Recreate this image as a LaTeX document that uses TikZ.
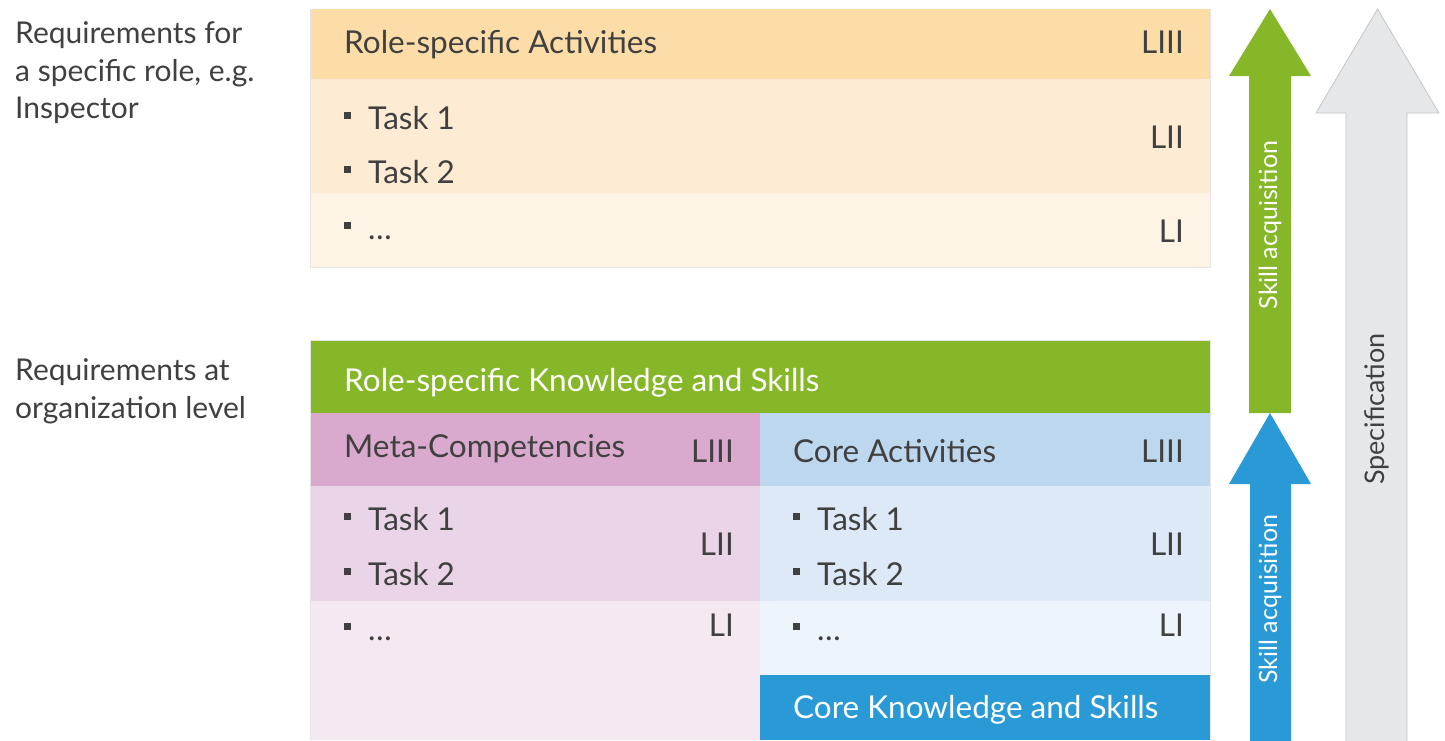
\documentclass[tikz,border=0pt]{standalone}
\usepackage{fontspec}
\setmainfont{Lato}
\definecolor{txt}{HTML}{404040}
\definecolor{orA}{HTML}{FCDDA8}
\definecolor{orB}{HTML}{FDEBD3}
\definecolor{orC}{HTML}{FEF4E6}
\definecolor{grn}{HTML}{86B728}
\definecolor{mtA}{HTML}{DAAACE}
\definecolor{mtB}{HTML}{EAD5E8}
\definecolor{mtC}{HTML}{F4E8F3}
\definecolor{crA}{HTML}{BDD7EF}
\definecolor{crB}{HTML}{DDE9F6}
\definecolor{crC}{HTML}{EEF4FB}
\definecolor{blu}{HTML}{2A9AD6}
\definecolor{gryA}{HTML}{E6E7E8}
\definecolor{gryB}{HTML}{C4C5C7}
\newcommand\sqbul{\makebox[24pt][l]{\rule[10pt]{7pt}{7pt}}}
\tikzset{
  lbl/.style={anchor=base west, inner sep=0pt, text=txt, font=\fontsize{31.5}{38}\selectfont},
  lvl/.style={anchor=base east, inner sep=0pt, text=txt, font=\fontsize{31.5}{38}\selectfont},
  wlbl/.style={lbl, text=white},
  side/.style={anchor=base west, inner sep=0pt, text=txt, align=left, font=\fontsize{30}{37.5}\selectfont},
  vert/.style={rotate=90, inner sep=0pt, font=\fontsize{25}{30}\selectfont},
}
\begin{document}
\begin{tikzpicture}[x=1pt,y=-1pt]
\useasboundingbox (0,0) rectangle (1445,740);

% role-specific activities block
\fill[orA] (310,9) rectangle (1210,79);
\fill[orB] (310,79) rectangle (1210,193);
\fill[orC] (310,193) rectangle (1210,267);
\draw[black!10, line width=0.8pt] (310,9) -- (310,267) -- (1210,267) -- (1210,9);

\node[lbl] (ra) at (344,53) {Role-specific Activities};
\node[lvl] (ra3) at (1184,53) {LIII};
\node[lbl] (rt1) at (344,129) {\sqbul Task 1};
\node[lbl] (rt2) at (344,183) {\sqbul Task 2};
\node[lbl] (rt3) at (344,239) {\sqbul \dots};
\node[lvl] (ra2) at (1184,148) {LII};
\node[lvl] (ra1) at (1184,242) {LI};

% organization-level block
\fill[grn] (310,340) rectangle (1210,413);
\fill[mtA] (310,413) rectangle (760,486);
\fill[mtB] (310,486) rectangle (760,601);
\fill[mtC] (310,601) rectangle (760,740);
\fill[crA] (760,413) rectangle (1210,486);
\fill[crB] (760,486) rectangle (1210,601);
\fill[crC] (760,601) rectangle (1210,675);
\fill[blu] (760,675) rectangle (1210,740);
\draw[black!10, line width=0.8pt] (310,740) -- (310,340) -- (1210,340) -- (1210,740);

\node[wlbl] (rks) at (344,391) {Role-specific Knowledge and Skills};

\node[lbl] (mc) at (344,457) {Meta-Competencies};
\node[lvl] (mc3) at (734,462) {LIII};
\node[lbl] (mt1) at (344,530) {\sqbul Task 1};
\node[lbl] (mt2) at (344,585) {\sqbul Task 2};
\node[lbl] (mt3) at (344,640) {\sqbul \dots};
\node[lvl] (mc2) at (734,555) {LII};
\node[lvl] (mc1) at (734,636) {LI};

\node[lbl] (ca) at (793,462) {Core Activities};
\node[lvl] (ca3) at (1184,462) {LIII};
\node[lbl] (ct1) at (793,530) {\sqbul Task 1};
\node[lbl] (ct2) at (793,585) {\sqbul Task 2};
\node[lbl] (ct3) at (793,640) {\sqbul \dots};
\node[lvl] (ca2) at (1184,555) {LII};
\node[lvl] (ca1) at (1184,636) {LI};

\node[wlbl] (cks) at (793,718) {Core Knowledge and Skills};

% side captions
\node[side] (s1) at (15,43) {Requirements for};
\node[side] (s2) at (15,81) {a specific role, e.g.};
\node[side] (s3) at (15,118) {Inspector};
\node[side] (s4) at (15,380) {Requirements at};
\node[side] (s5) at (15,418) {organization level};

% arrows
\fill[gryA, draw=gryB, line width=0.8pt]
  (1346,741) -- (1346,113) -- (1316,113) -- (1377.5,9) -- (1439,113) -- (1407,113) -- (1407,741);
\fill[grn] (1249,413) -- (1249,76) -- (1229,76) -- (1270,9) -- (1311,76) -- (1291,76) -- (1291,413) -- cycle;
\fill[blu] (1250,741) -- (1250,484) -- (1229,484) -- (1270,413) -- (1311,484) -- (1291,484) -- (1291,741) -- cycle;

\node[vert, text=white] (sa1) at (1270,225) {Skill acquisition};
\node[vert, text=white] (sa2) at (1270,599) {Skill acquisition};
\node[vert, text=txt, font=\fontsize{27}{32}\selectfont] (spec) at (1377,409) {Specification};
\end{tikzpicture}
\end{document}
